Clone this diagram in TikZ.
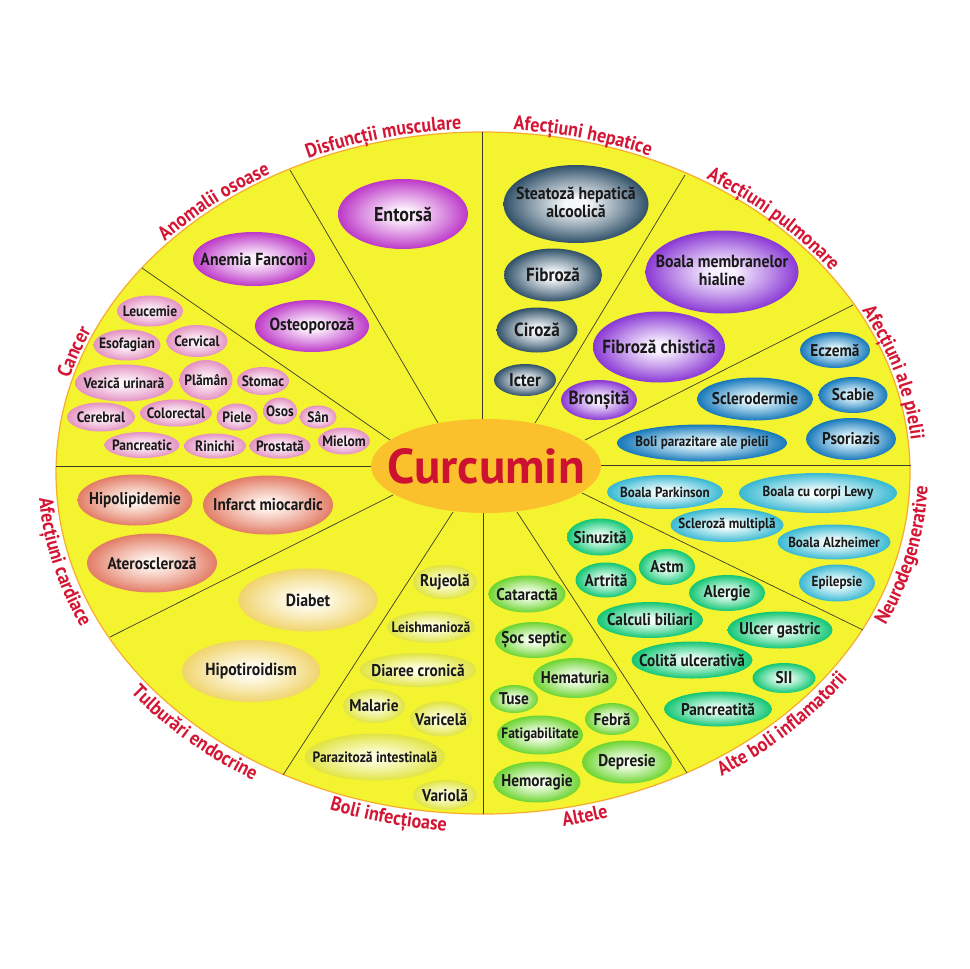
\documentclass[tikz,border=0pt]{standalone}
\usepackage{fontspec}
\setmainfont{PT Sans}[FakeStretch=0.9]
\newfontfamily\widefont{PT Sans}
\usetikzlibrary{shapes.geometric,decorations.text}

\definecolor{backyel}{RGB}{243,243,48}
\definecolor{rimorange}{RGB}{247,172,45}
\definecolor{labred}{RGB}{212,22,52}
\definecolor{curcfill}{RGB}{251,193,45}
\definecolor{curcred}{RGB}{204,18,48}
\definecolor{divline}{RGB}{60,60,40}

\definecolor{cancerin}{RGB}{253,242,249}\definecolor{cancerout}{RGB}{228,146,194}
\definecolor{oasein}{RGB}{253,240,253}\definecolor{oaseout}{RGB}{188,56,200}
\definecolor{hepatin}{RGB}{244,248,250}\definecolor{hepatout}{RGB}{48,80,104}
\definecolor{pulmin}{RGB}{248,240,255}\definecolor{pulmout}{RGB}{138,56,212}
\definecolor{pielein}{RGB}{228,248,254}\definecolor{pieleout}{RGB}{22,120,186}
\definecolor{neuroin}{RGB}{244,254,254}\definecolor{neuroout}{RGB}{56,184,210}
\definecolor{inflamin}{RGB}{236,255,245}\definecolor{inflamout}{RGB}{18,198,116}
\definecolor{altelein}{RGB}{248,255,240}\definecolor{alteleout}{RGB}{108,212,48}
\definecolor{infectin}{RGB}{254,254,222}\definecolor{infectout}{RGB}{224,228,66}
\definecolor{endoin}{RGB}{255,253,244}\definecolor{endoout}{RGB}{240,212,108}
\definecolor{cardin}{RGB}{255,242,236}\definecolor{cardout}{RGB}{226,124,102}

\newcommand\mkshade[1]{\colorlet{#1mid}{#1in!45!#1out}%
  \pgfdeclareradialshading{#1sh}{\pgfpoint{0bp}{0bp}}{color(0bp)=(#1in); color(4bp)=(#1in); color(16bp)=(#1mid); color(25bp)=(#1out); color(50bp)=(#1out)}}
\mkshade{cancer}\mkshade{oase}\mkshade{hepat}\mkshade{pulm}
\mkshade{piele}\mkshade{neuro}\mkshade{inflam}\mkshade{altele}
\mkshade{infect}\mkshade{endo}\mkshade{card}

\newcommand\fs[1]{\fontsize{#1}{#1}\selectfont}
\newcommand\bl[1]{\makebox[0pt]{#1}}
\newcommand\two[2]{\makebox[0pt]{\begin{tabular}{@{}c@{}}#1\\[-2pt]#2\end{tabular}}}
\newcommand\labfont{\color{labred}\bfseries\fs{20}}
\newcommand\catlabel[5]{\path[decorate, decoration={text along path, text align=center,
    text={|\labfont|#5}}] ([shift={(483,473)}]#1:#3 and #4) arc[start angle=#1, end angle=#2, x radius=#3, y radius=#4];}

\tikzset{
  bub/.style={ellipse, inner sep=0pt, shade, text=black!90, font=\bfseries\fs{17}},
  cancer/.style={bub, shading=cancersh, font=\bfseries\fs{15}},
  oase/.style={bub, shading=oasesh, font=\bfseries\fs{17.5}},
  hepat/.style={bub, shading=hepatsh, font=\bfseries\fs{19}},
  pulm/.style={bub, shading=pulmsh, font=\bfseries\fs{19}},
  piele/.style={bub, shading=pielesh},
  neuro/.style={bub, shading=neurosh, font=\bfseries\fs{14.5}},
  inflam/.style={bub, shading=inflamsh},
  altele/.style={bub, shading=altelesh},
  infect/.style={bub, shading=infectsh},
  endo/.style={bub, shading=endosh, font=\bfseries\fs{17.5}},
  cardiac/.style={bub, shading=cardsh},
  divider/.style={draw=divline, line width=0.7pt}
}

\begin{document}
\begin{tikzpicture}[x=1pt, y=-1pt]
  \useasboundingbox[fill=white] (0,0) rectangle (969,969);
  \draw[fill=backyel, draw=rimorange, line width=1.2pt] (483,473) ellipse [x radius=427, y radius=341];

  \draw[divider] (142,268) -- (390,440);
  \draw[divider] (290,170) -- (438,423);
  \draw[divider] (482,132) -- (482,420);
  \draw[divider] (685,175) -- (535,423);
  \draw[divider] (853,305) -- (585,440);
  \draw[divider] (911,465) -- (600,465);
  \draw[divider] (863,630) -- (582,493);
  \draw[divider] (687,773) -- (517,512);
  \draw[divider] (483,814) -- (483,512);
  \draw[divider] (283,775) -- (453,512);
  \draw[divider] (110,637) -- (393,495);
  \draw[divider] (56,466) -- (372,466);

  \node[ellipse, fill=curcfill, inner sep=0pt, minimum width=230, minimum height=94, text=curcred,
        font=\widefont\bfseries\fs{49}] (curcumin) at (486,466) {\bl{Curcumin}};

  % cancer
  \node[cancer, minimum width=66, minimum height=31] (leucemie) at (150,311) {\bl{Leucemie}};
  \node[cancer, minimum width=67, minimum height=31] (esofagian) at (127,345) {\bl{Esofagian}};
  \node[cancer, minimum width=61, minimum height=32] (cervical) at (197,341) {\bl{Cervical}};
  \node[cancer, minimum width=98, minimum height=37] (vezica) at (124,383) {\bl{Vezică urinară}};
  \node[cancer, minimum width=53, minimum height=40] (plaman) at (206,380) {\bl{Plămân}};
  \node[cancer, minimum width=52, minimum height=28] (stomac) at (263,381) {\bl{Stomac}};
  \node[cancer, minimum width=68, minimum height=29] (cerebral) at (101,417) {\bl{Cerebral}};
  \node[cancer, minimum width=72, minimum height=27] (colorectal) at (176,413) {\bl{Colorectal}};
  \node[cancer, minimum width=41, minimum height=27] (pielec) at (237,417) {\bl{Piele}};
  \node[cancer, minimum width=34, minimum height=27] (osos) at (280,411) {\bl{Osos}};
  \node[cancer, minimum width=37, minimum height=23] (san) at (318,417) {\bl{Sân}};
  \node[cancer, minimum width=75, minimum height=26] (pancreatic) at (142,445) {\bl{Pancreatic}};
  \node[cancer, minimum width=62, minimum height=25] (rinichi) at (215,446) {\bl{Rinichi}};
  \node[cancer, minimum width=61, minimum height=25] (prostata) at (280,446) {\bl{Prostată}};
  \node[cancer, minimum width=52, minimum height=27] (mielom) at (344,441) {\bl{Mielom}};

  % oase si muschi
  \node[oase, minimum width=130, minimum height=70, font=\bfseries\fs{20}] (entorsa) at (403,214) {\bl{Entorsă}};
  \node[oase, minimum width=122, minimum height=54] (anemia) at (254,259) {\bl{Anemia Fanconi}};
  \node[oase, minimum width=114, minimum height=52] (osteoporoza) at (312,326) {\bl{Osteoporoză}};

  % ficat
  \node[hepat, minimum width=145, minimum height=78, font=\bfseries\fontsize{17.5}{20}\selectfont] (steatoza) at (576,204) {\two{Steatoză hepatică}{alcoolică}};
  \node[hepat, minimum width=98, minimum height=53] (fibroza) at (553,275) {\bl{Fibroză}};
  \node[hepat, minimum width=81, minimum height=45] (ciroza) at (537,330) {\bl{Ciroză}};
  \node[hepat, minimum width=62, minimum height=32, font=\bfseries\fs{18.5}] (icter) at (525,380) {\bl{Icter}};

  % plamani
  \node[pulm, minimum width=153, minimum height=83, font=\bfseries\fontsize{17.5}{20}\selectfont] (membrane) at (722,272) {\two{Boala membranelor}{hialine}};
  \node[pulm, minimum width=132, minimum height=71] (chistica) at (659,347) {\bl{Fibroză chistică}};
  \node[pulm, minimum width=76, minimum height=40] (bronsita) at (599,400) {\bl{Bronșită}};

  % piele
  \node[piele, minimum width=70, minimum height=36] (eczema) at (835,350) {\bl{Eczemă}};
  \node[piele, minimum width=116, minimum height=43] (sclerodermie) at (755,399) {\bl{Sclerodermie}};
  \node[piele, minimum width=69, minimum height=36] (scabie) at (853,395) {\bl{Scabie}};
  \node[piele, minimum width=170, minimum height=37, font=\bfseries\fs{14.5}] (parazitare) at (702,443) {\bl{Boli parazitare ale pielii}};
  \node[piele, minimum width=90, minimum height=42] (psoriazis) at (851,439) {\bl{Psoriazis}};

  % neurodegenerative
  \node[neuro, minimum width=116, minimum height=34] (parkinson) at (665,492) {\bl{Boala Parkinson}};
  \node[neuro, minimum width=158, minimum height=40] (lewy) at (818,493) {\bl{Boala cu corpi Lewy}};
  \node[neuro, minimum width=113, minimum height=34] (multipla) at (727,525) {\bl{Scleroză multiplă}};
  \node[neuro, minimum width=113, minimum height=35] (alzheimer) at (834,542) {\bl{Boala Alzheimer}};
  \node[neuro, minimum width=76, minimum height=37] (epilepsie) at (837,583) {\bl{Epilepsie}};

  % inflamatorii
  \node[inflam, minimum width=66, minimum height=37] (sinuzita) at (600,537) {\bl{Sinuzită}};
  \node[inflam, minimum width=56, minimum height=36] (astm) at (667,567) {\bl{Astm}};
  \node[inflam, minimum width=61, minimum height=35] (artrita) at (606,580) {\bl{Artrită}};
  \node[inflam, minimum width=76, minimum height=36] (alergie) at (727,593) {\bl{Alergie}};
  \node[inflam, minimum width=106, minimum height=36] (calculi) at (650,620) {\bl{Calculi biliari}};
  \node[inflam, minimum width=105, minimum height=37] (ulcer) at (780,630) {\bl{Ulcer gastric}};
  \node[inflam, minimum width=121, minimum height=37] (colita) at (692,660) {\bl{Colită ulcerativă}};
  \node[inflam, minimum width=63, minimum height=30] (sii) at (784,678) {\bl{SII}};
  \node[inflam, minimum width=108, minimum height=35] (pancreatita) at (718,709) {\bl{Pancreatită}};

  % altele
  \node[altele, minimum width=77, minimum height=37] (cataracta) at (527,594) {\bl{Cataractă}};
  \node[altele, minimum width=78, minimum height=36] (soc) at (534,640) {\bl{Șoc septic}};
  \node[altele, minimum width=84, minimum height=40] (hematuria) at (575,678) {\bl{Hematuria}};
  \node[altele, minimum width=48, minimum height=28] (tuse) at (514,699) {\bl{Tuse}};
  \node[altele, minimum width=54, minimum height=32] (febra) at (612,719) {\bl{Febră}};
  \node[altele, minimum width=86, minimum height=39, font=\bfseries\fs{15}] (fatigabilitate) at (540,735) {\bl{Fatigabilitate}};
  \node[altele, minimum width=90, minimum height=43] (depresie) at (627,762) {\bl{Depresie}};
  \node[altele, minimum width=87, minimum height=41] (hemoragie) at (537,782) {\bl{Hemoragie}};

  % infectioase
  \node[infect, minimum width=64, minimum height=34] (rujeola) at (445,582) {\bl{Rujeolă}};
  \node[infect, minimum width=88, minimum height=32, font=\bfseries\fs{15}] (leishmanioza) at (431,627) {\bl{Leishmanioză}};
  \node[infect, minimum width=117, minimum height=34] (diaree) at (418,670) {\bl{Diaree cronică}};
  \node[infect, minimum width=62, minimum height=34] (malarie) at (374,706) {\bl{Malarie}};
  \node[infect, minimum width=62, minimum height=35] (varicela) at (441,719) {\bl{Varicelă}};
  \node[infect, minimum width=140, minimum height=47, font=\bfseries\fs{15}] (parazitoza) at (375,757) {\bl{Parazitoză intestinală}};
  \node[infect, minimum width=64, minimum height=30] (variola) at (445,795) {\bl{Variolă}};

  % endocrine
  \node[endo, minimum width=139, minimum height=63] (diabet) at (308,600) {\bl{Diabet}};
  \node[endo, minimum width=138, minimum height=62] (hipotiroidism) at (251,671) {\bl{Hipotiroidism}};

  % cardiace
  \node[cardiac, minimum width=115, minimum height=51] (hipolipidemie) at (135,500) {\bl{Hipolipidemie}};
  \node[cardiac, minimum width=130, minimum height=59] (infarct) at (268,505) {\bl{Infarct miocardic}};
  \node[cardiac, minimum width=130, minimum height=59] (ateroscleroza) at (152,563) {\bl{Ateroscleroză}};

  % etichete pe margine
  \catlabel{169}{229}{430}{344}{Cancer}
  \catlabel{200}{260}{430}{344}{Anomalii osoase}
  \catlabel{226}{286}{430}{344}{Disfuncții musculare}
  \catlabel{254}{314}{430}{344}{Afecțiuni hepatice}
  \catlabel{284}{344}{430}{344}{Afecțiuni pulmonare}
  \catlabel{314}{374}{430}{344}{Afecțiuni ale pielii}
  \catlabel{43}{-17}{445}{359}{Neurodegenerative}
  \catlabel{75}{15}{445}{359}{Alte boli inflamatorii}
  \catlabel{106}{46}{445}{359}{Altele}
  \catlabel{133}{73}{445}{359}{Boli infecțioase}
  \catlabel{163}{103}{445}{359}{Tulburări endocrine}
  \catlabel{196}{136}{445}{359}{Afecțiuni cardiace}
\end{tikzpicture}
\end{document}
